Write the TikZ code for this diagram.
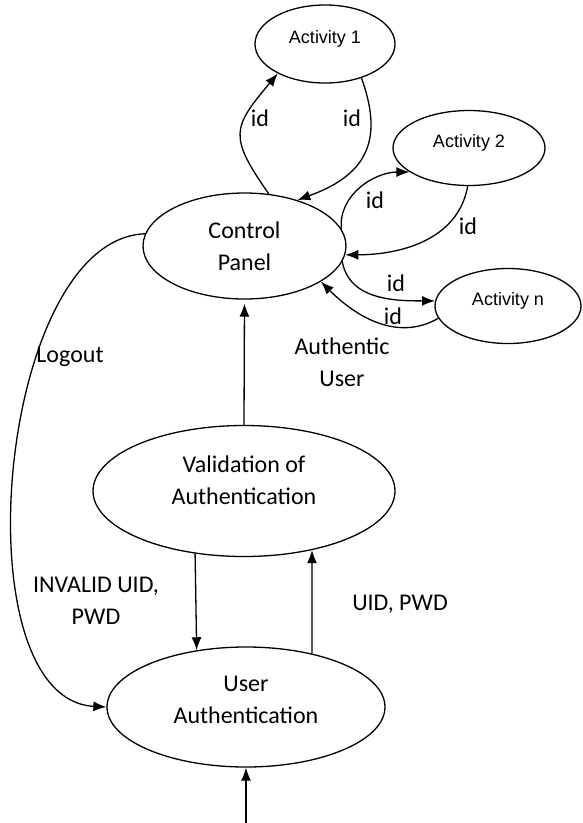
\documentclass[tikz,border=0pt]{standalone}
\usepackage{fontspec}
\setmainfont{Carlito}
\newfontfamily\actfont{Liberation Sans}
\usepackage{tikz}
\usetikzlibrary{positioning}
\usetikzlibrary{shapes.geometric}
\usetikzlibrary{arrows.meta}

\begin{document}
\begin{tikzpicture}[->,>={Latex[length=13pt,width=10pt]},x=1pt,y=-1pt,
                    line width=1.3pt,
                    main node/.style={ellipse,draw,align=center,inner sep=0pt,
                            font=\fontsize{24}{32}\selectfont},
                    act node/.style={ellipse,draw,inner sep=0pt,text depth=14pt,
                            font=\actfont\fontsize{18}{20}\selectfont,
                            minimum width=146pt,minimum height=75pt},
                    label node/.style={font=\fontsize{24}{32}\selectfont,align=center,inner sep=0pt}]

    \useasboundingbox (0,0) rectangle (582,823);

    \node[main node,minimum width=203pt,minimum height=106pt] (panel) at (244.5,246) {Control\\Panel};
    \node[main node,minimum width=302pt,minimum height=131pt,text depth=22pt] (valid) at (244,491) {Validation of\\Authentication};
    \node[main node,minimum width=278pt,minimum height=120pt,text depth=14pt] (user) at (246,707) {User\\Authentication};
    \node[act node,minimum width=140pt,minimum height=78pt] (act1) at (325,44) {Activity 1};
    \node[act node,minimum width=152pt] (act2) at (469,148) {Activity 2};
    \node[act node] (actn) at (508,306) {Activity n};
    \coordinate (start) at (246,823);

    % labels
    \node[label node] (id1a) at (260,118) {id};
    \node[label node] (id1b) at (352,118) {id};
    \node[label node] (id2a) at (375,200) {id};
    \node[label node] (id2b) at (468,226) {id};
    \node[label node] (idna) at (396,283) {id};
    \node[label node] (idnb) at (393,316) {id};
    \node[label node] (auth) at (342,362) {Authentic\\User};
    \node[label node] (logout) at (70,357) {Logout};
    \node[label node] (invalid) at (96,601) {INVALID UID,\\PWD};
    \node[label node] (uidpwd) at (400,604) {UID, PWD};

    \draw (panel.65) to[out=125,in=230,looseness=1.5] (act1.212);
    \draw (act1.-43) to[out=-70,in=20,looseness=1.3] (panel.41);
    \draw (panel.10) to[out=95,in=180] (act2.202);
    \draw (act2.-92) to[out=-100,in=0] (panel.-5);
    \draw (panel.-9) to[out=-80,in=180] (actn.176);
    \draw (actn.190) to[out=210,in=-45] (panel.-25);

    \draw[shorten >=4pt] (valid.north) -- (panel.south);
    \draw (valid.232.3) -- (user.131.8);
    \draw (user.39.2) -- (valid.-41.2);
    \draw (start) -- (user.south);
    \draw (panel.173) to[out=182,in=177,looseness=0.8] (user.west);
\end{tikzpicture}
\end{document}
